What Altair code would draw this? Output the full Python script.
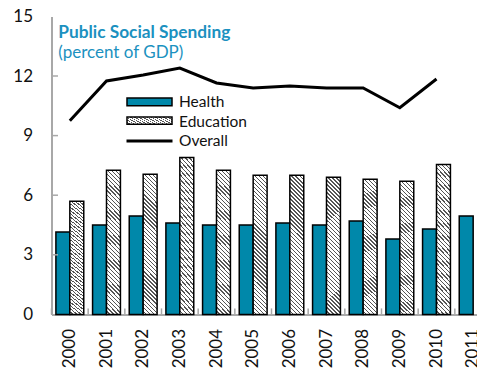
import altair as alt
import pandas as pd

years = [str(y) for y in range(2000, 2012)]
health = [4.15, 4.5, 4.95, 4.6, 4.5, 4.5, 4.6, 4.5, 4.7, 3.8, 4.3, 4.95]
education = [5.7, 7.25, 7.05, 7.9, 7.25, 7.0, 7.0, 6.9, 6.8, 6.7, 7.55]
overall = [9.75, 11.75, 12.05, 12.4, 11.65, 11.4, 11.5, 11.4, 11.4, 10.4, 11.85]
y_ticks = [3, 6, 9, 12]
series_names = ["Health", "Education"]
legend_labels = ["Health", "Education", "Overall"]

TEAL = "#0088aa"
TITLE_COLOR = "#1b91c0"
GREY = "#a8a8a8"
FONT = "Lato"

rows = []
for i, y in enumerate(years):
    rows.append({"year": y, "series": "Health", "value": health[i]})
    if i < len(education):
        rows.append({"year": y, "series": "Education", "value": education[i]})
bars_df = pd.DataFrame(rows)
line_df = pd.DataFrame({"year": years[: len(overall)], "value": overall})
yt_df = pd.DataFrame({"v": y_ticks})
xt_df = pd.DataFrame({"year": years})


def hatch(x2, y2, n, duty=0.66, dark="#555555"):
    stops = []
    for i in range(n):
        a = i / n
        b = (i + duty) / n
        c = (i + 1) / n
        stops += [
            alt.GradientStop(offset=a, color="white"),
            alt.GradientStop(offset=b, color="white"),
            alt.GradientStop(offset=b, color=dark),
            alt.GradientStop(offset=c, color=dark),
        ]
    return alt.LinearGradient(gradient="linear", x1=0, y1=1, x2=x2, y2=y2, stops=stops)


bar_hatch = hatch(0.1089, -0.089, 38)
legend_hatch = hatch(1.19, 0.656, 14)

x_enc = alt.X(
    "year:N",
    sort=years,
    title=None,
    scale=alt.Scale(domain=years, range=[0, 440], paddingInner=0, paddingOuter=0),
    axis=alt.Axis(
        labelAngle=270,
        labelFont=FONT,
        labelFontSize=17,
        labelColor="#111",
        labelPadding=14,
        ticks=False,
        domainColor=GREY,
        domainWidth=2,
        grid=False,
    ),
)
y_enc = alt.Y(
    "value:Q",
    title=None,
    scale=alt.Scale(domain=[0, 15], nice=False),
    axis=alt.Axis(
        values=[0, 3, 6, 9, 12, 15],
        labelFont=FONT,
        labelFontSize=17,
        labelColor="#111",
        labelPadding=19,
        ticks=False,
        domainColor=GREY,
        domainWidth=2,
        grid=False,
    ),
)
xoff = alt.XOffset(
    "series:N",
    scale=alt.Scale(domain=series_names, paddingInner=0, paddingOuter=0.316),
)

base = alt.Chart(bars_df)
health_bars = base.transform_filter("datum.series == 'Health'").mark_bar(
    fill=TEAL, stroke="black", strokeWidth=1.5
).encode(x=x_enc, y=y_enc, xOffset=xoff)
edu_bars = base.transform_filter("datum.series == 'Education'").mark_bar(
    fill=bar_hatch, stroke="black", strokeWidth=1.5
).encode(x=x_enc, y=y_enc, xOffset=xoff)

line = alt.Chart(line_df).mark_line(color="black", strokeWidth=3).encode(
    x=alt.X("year:N", sort=years), y="value:Q"
)

yticks = alt.Chart(yt_df).mark_rule(color=GREY, strokeWidth=1.5).encode(
    y=alt.Y("v:Q"), x=alt.value(0), x2=alt.value(6.5)
)
xticks = alt.Chart(xt_df).mark_rule(color=GREY, strokeWidth=1.5).encode(
    x=alt.X("year:N", sort=years, bandPosition=0), y=alt.value(292), y2=alt.value(298)
)

one = pd.DataFrame({"k": [0]})


def label(txt, x, y, size, weight="normal", color="#111"):
    return alt.Chart(one).mark_text(
        text=txt, font=FONT, fontSize=size, fontWeight=weight, color=color,
        align="left", baseline="alphabetic",
    ).encode(x=alt.value(x), y=alt.value(y))


title_txt = label("Public Social Spending", 6.8, 21.9, 17.3, "bold", TITLE_COLOR)
sub_txt = label("(percent of GDP)", 6.8, 41.2, 17, "normal", TITLE_COLOR)

leg_h = alt.Chart(one).mark_rect(fill=TEAL, stroke="black", strokeWidth=1.5).encode(
    x=alt.value(75.5), x2=alt.value(120.5), y=alt.value(81.5), y2=alt.value(89.3)
)
leg_e = alt.Chart(one).mark_rect(fill=legend_hatch, stroke="black", strokeWidth=1.5).encode(
    x=alt.value(75.5), x2=alt.value(120.5), y=alt.value(100.5), y2=alt.value(107.8)
)
leg_l = alt.Chart(one).mark_rule(color="black", strokeWidth=3).encode(
    x=alt.value(75), x2=alt.value(121), y=alt.value(124.6)
)
leg_t1 = label(legend_labels[0], 127.5, 90.6, 15.5)
leg_t2 = label(legend_labels[1], 127.5, 110.2, 15.5)
leg_t3 = label(legend_labels[2], 127.5, 129.9, 15.5)

chart = (
    alt.layer(
        health_bars, edu_bars, yticks, xticks, line, title_txt, sub_txt,
        leg_h, leg_e, leg_l, leg_t1, leg_t2, leg_t3,
    )
    .properties(
        width=425.5,
        height=298,
        autosize=alt.AutoSizeParams(type="none"),
        padding={"left": 43.5, "top": 8.4, "right": 0, "bottom": 56.6},
        background="white",
    )
    .configure_view(strokeWidth=0)
)

chart.save("out.html", embed_options={"renderer": "svg", "actions": False})
